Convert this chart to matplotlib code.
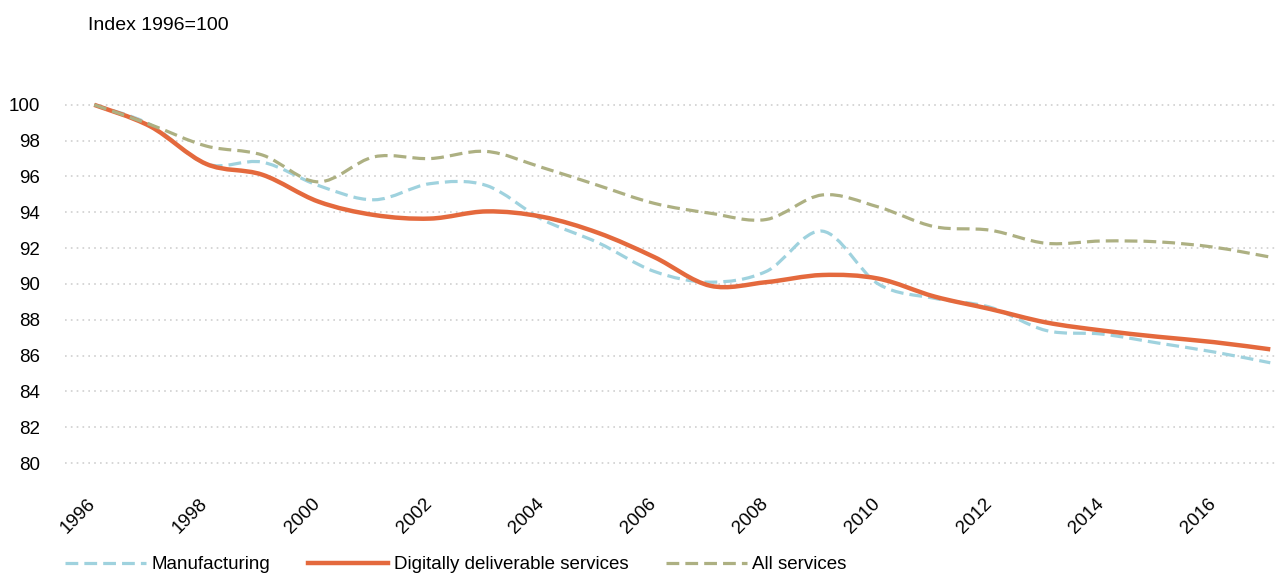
import matplotlib
matplotlib.use("Agg")
import matplotlib.pyplot as plt
import matplotlib.transforms as mtransforms
from matplotlib.path import Path
from matplotlib.patches import PathPatch
from matplotlib.lines import Line2D

plt.rcParams['font.family'] = ['Liberation Sans', 'DejaVu Sans']

years = list(range(1996, 2018))
manufacturing = [100, 98.9, 96.7, 96.8, 95.5, 94.7, 95.6, 95.5, 93.6, 92.3, 90.7,
                 90.1, 90.7, 92.95, 90.0, 89.2, 88.7, 87.4, 87.2, 86.7, 86.2, 85.6]
digital = [100, 98.8, 96.7, 96.1, 94.6, 93.85, 93.65, 94.05, 93.75, 92.85, 91.5,
           89.9, 90.1, 90.5, 90.3, 89.3, 88.6, 87.85, 87.4, 87.05, 86.75, 86.35]
all_services = [100, 98.9, 97.7, 97.2, 95.7, 97.1, 97.0, 97.4, 96.5, 95.5, 94.5,
                93.95, 93.6, 94.97, 94.3, 93.2, 93.0, 92.27, 92.4, 92.35, 92.05, 91.5]
labels = ['Manufacturing', 'Digitally deliverable services', 'All services']
colors = ['#9fd2de', '#e4693d', '#adb082']
xticks = list(range(1996, 2017, 2))
yticks = list(range(80, 101, 2))


def smooth_path(xs, ys):
    # catmull-rom through the yearly points, as bezier segments
    pts = list(zip(xs, ys))
    verts = [pts[0]]
    codes = [Path.MOVETO]
    n = len(pts)
    for i in range(n - 1):
        p0 = pts[max(i - 1, 0)]
        p1 = pts[i]
        p2 = pts[i + 1]
        p3 = pts[min(i + 2, n - 1)]
        c1 = (p1[0] + (p2[0] - p0[0]) / 6, p1[1] + (p2[1] - p0[1]) / 6)
        c2 = (p2[0] - (p3[0] - p1[0]) / 6, p2[1] - (p3[1] - p1[1]) / 6)
        verts += [c1, c2, p2]
        codes += [Path.CURVE4] * 3
    return Path(verts, codes)


fig = plt.figure(figsize=(12.77, 5.77), dpi=100)
ax = fig.add_axes([0.051, 0.185, 0.949, 0.642])

styles = [
    dict(lw=2.3, ls=(0, (4, 1.9))),
    dict(lw=3.2, ls='-'),
    dict(lw=2.3, ls=(0, (4, 1.9))),
]
series = [manufacturing, digital, all_services]
for k in [2, 0, 1]:
    p = PathPatch(smooth_path(years, series[k]), fill=False, edgecolor=colors[k],
                  lw=styles[k]['lw'], linestyle=styles[k]['ls'], capstyle='butt',
                  zorder=3 + k)
    ax.add_patch(p)

ax.set_xlim(1995.48, 2017.12)
ax.set_ylim(79.6, 100.28)
ax.set_yticks(yticks)
ax.set_xticks(xticks)
ax.set_xticklabels([str(x) for x in xticks], rotation=45, ha='right', va='top',
                   rotation_mode='anchor', fontsize=13.5)
ax.tick_params(axis='y', length=0, pad=18, labelsize=13.5)
ax.tick_params(axis='x', length=0, pad=18)
shift = mtransforms.ScaledTranslation(-7 / 100, 0, fig.dpi_scale_trans)
for lab in ax.get_xticklabels():
    lab.set_transform(lab.get_transform() + shift)
ax.grid(axis='y', color='#cfcfcf', linestyle=(0, (1, 2.5)), lw=1.2)
for s in ax.spines.values():
    s.set_visible(False)

fig.text(0.069, 0.955, 'Index 1996=100', fontsize=14, va='center')

handles = [Line2D([], [], color=colors[k], lw=styles[k]['lw'], linestyle=styles[k]['ls'])
           for k in range(3)]
ax.legend(handles, labels, loc='center left', bbox_to_anchor=(0.0, -0.255),
          bbox_transform=ax.transAxes, ncol=3, frameon=False, fontsize=13.5,
          handlelength=4.3, handletextpad=0.3, columnspacing=2.0, borderaxespad=0,
          borderpad=0)

fig.savefig('out.png', dpi=100)
